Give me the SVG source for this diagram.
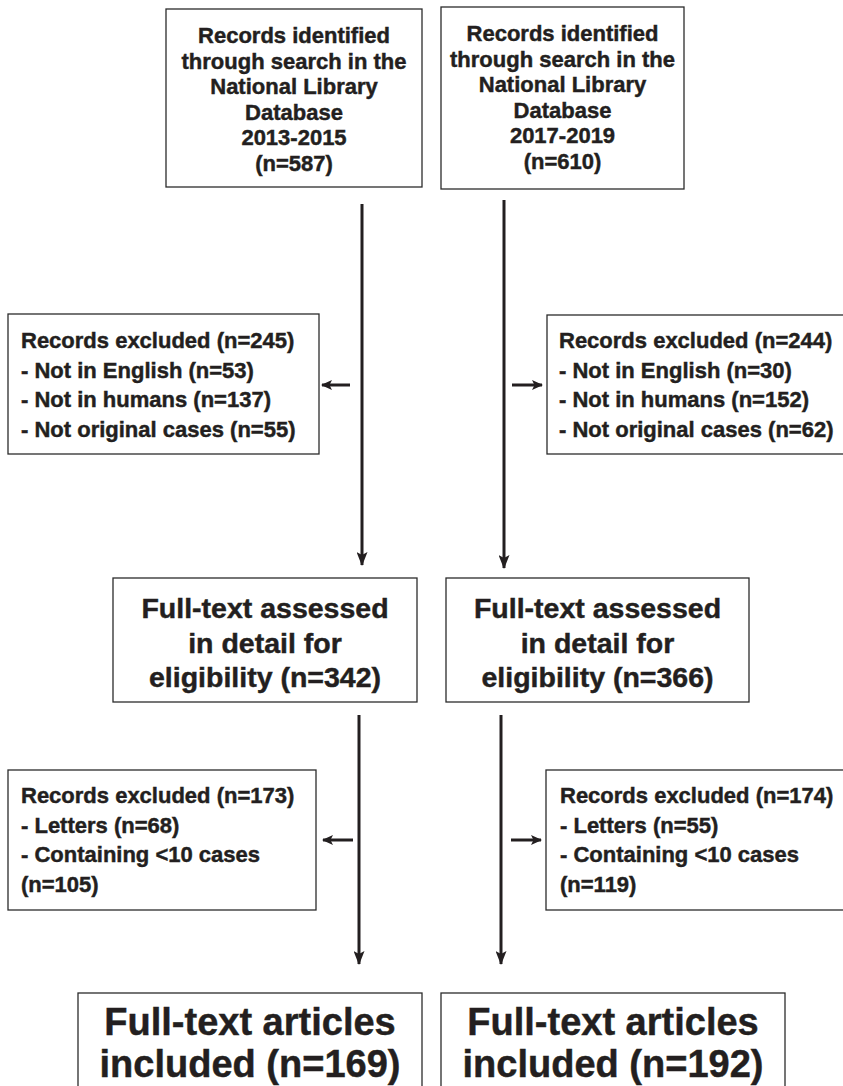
<svg xmlns="http://www.w3.org/2000/svg" width="843" height="1086" viewBox="0 0 843 1086">
<defs>
<style>
.box{fill:#fff;stroke:#2b2b2b;stroke-width:1.3}
.t{font-family:"Liberation Sans",Arial,Helvetica,sans-serif;font-weight:bold;fill:#231f20;stroke:#231f20;stroke-width:0.45}
.c{text-anchor:middle}
.s22{font-size:22px}
.s28{font-size:28.5px}
.s38{font-size:38px}
.v{stroke:#231f20;stroke-width:3;fill:none}
.h{stroke:#231f20;stroke-width:3;fill:none}
</style>
<marker id="ad" viewBox="0 0 14 11" refX="13" refY="5.5" markerWidth="14" markerHeight="11" markerUnits="userSpaceOnUse" orient="auto">
<path d="M0,0 L14,5.5 L0,11 L3,5.5 Z" fill="#231f20"/>
</marker>
<marker id="ah" viewBox="0 0 11 10" refX="10" refY="5" markerWidth="11" markerHeight="10" markerUnits="userSpaceOnUse" orient="auto">
<path d="M0,0 L11,5 L0,10 L2.5,5 Z" fill="#231f20"/>
</marker>
</defs>
<rect width="843" height="1086" fill="#fff"/>

<g id="connectors">
<line class="v" x1="362" y1="204" x2="362" y2="565" marker-end="url(#ad)"/>
<line class="v" x1="504" y1="200" x2="504" y2="568" marker-end="url(#ad)"/>
<line class="h" x1="350" y1="385" x2="322" y2="385" marker-end="url(#ah)"/>
<line class="h" x1="512" y1="385" x2="542" y2="385" marker-end="url(#ah)"/>
<line class="v" x1="359" y1="715" x2="359" y2="964" marker-end="url(#ad)"/>
<line class="v" x1="501" y1="715" x2="501" y2="964" marker-end="url(#ad)"/>
<line class="h" x1="353" y1="840" x2="323" y2="840" marker-end="url(#ah)"/>
<line class="h" x1="511" y1="840" x2="541" y2="840" marker-end="url(#ah)"/>
</g>

<g id="n_search1">
<rect class="box" x="166" y="9" width="256" height="178"/>
<text class="t c s22" x="294" y="43">Records identified</text>
<text class="t c s22" x="294" y="68.5">through search in the</text>
<text class="t c s22" x="294" y="94">National Library</text>
<text class="t c s22" x="294" y="119.5">Database</text>
<text class="t c s22" x="294" y="145">2013-2015</text>
<text class="t c s22" x="294" y="170.5">(n=587)</text>
</g>

<g id="n_search2">
<rect class="box" x="441" y="7" width="243" height="182"/>
<text class="t c s22" x="562.5" y="41">Records identified</text>
<text class="t c s22" x="562.5" y="66.5">through search in the</text>
<text class="t c s22" x="562.5" y="92">National Library</text>
<text class="t c s22" x="562.5" y="117.5">Database</text>
<text class="t c s22" x="562.5" y="143">2017-2019</text>
<text class="t c s22" x="562.5" y="168.5">(n=610)</text>
</g>

<g id="n_excl1">
<rect class="box" x="8" y="314" width="311" height="140"/>
<text class="t s22" x="21" y="348">Records excluded (n=245)</text>
<text class="t s22" x="21" y="377.5">- Not in English (n=53)</text>
<text class="t s22" x="21" y="407">- Not in humans (n=137)</text>
<text class="t s22" x="21" y="436.5">- Not original cases (n=55)</text>
</g>

<g id="n_excl2">
<rect class="box" x="547" y="315" width="310" height="139"/>
<text class="t s22" x="559" y="348">Records excluded (n=244)</text>
<text class="t s22" x="559" y="377.5">- Not in English (n=30)</text>
<text class="t s22" x="559" y="407">- Not in humans (n=152)</text>
<text class="t s22" x="559" y="436.5">- Not original cases (n=62)</text>
</g>

<g id="n_full1">
<rect class="box" x="113" y="578" width="304" height="124"/>
<text class="t c s28" x="265" y="618">Full-text assessed</text>
<text class="t c s28" x="265" y="652.5">in detail for</text>
<text class="t c s28" x="265" y="687">eligibility (n=342)</text>
</g>

<g id="n_full2">
<rect class="box" x="446" y="578" width="303" height="124"/>
<text class="t c s28" x="597.5" y="618">Full-text assessed</text>
<text class="t c s28" x="597.5" y="652.5">in detail for</text>
<text class="t c s28" x="597.5" y="687">eligibility (n=366)</text>
</g>

<g id="n_excl3">
<rect class="box" x="8" y="770" width="308" height="140"/>
<text class="t s22" x="21" y="803">Records excluded (n=173)</text>
<text class="t s22" x="21" y="832.5">- Letters (n=68)</text>
<text class="t s22" x="21" y="862">- Containing &lt;10 cases</text>
<text class="t s22" x="21" y="891.5">(n=105)</text>
</g>

<g id="n_excl4">
<rect class="box" x="546" y="770" width="310" height="140"/>
<text class="t s22" x="560" y="803">Records excluded (n=174)</text>
<text class="t s22" x="560" y="832.5">- Letters (n=55)</text>
<text class="t s22" x="560" y="862">- Containing &lt;10 cases</text>
<text class="t s22" x="560" y="891.5">(n=119)</text>
</g>

<g id="n_incl1">
<rect class="box" x="78" y="993" width="344" height="110"/>
<text class="t c s38" x="250" y="1035">Full-text articles</text>
<text class="t c s38" x="250" y="1077">included (n=169)</text>
</g>

<g id="n_incl2">
<rect class="box" x="441" y="993" width="344" height="110"/>
<text class="t c s38" x="613" y="1035">Full-text articles</text>
<text class="t c s38" x="613" y="1077">included (n=192)</text>
</g>
</svg>
